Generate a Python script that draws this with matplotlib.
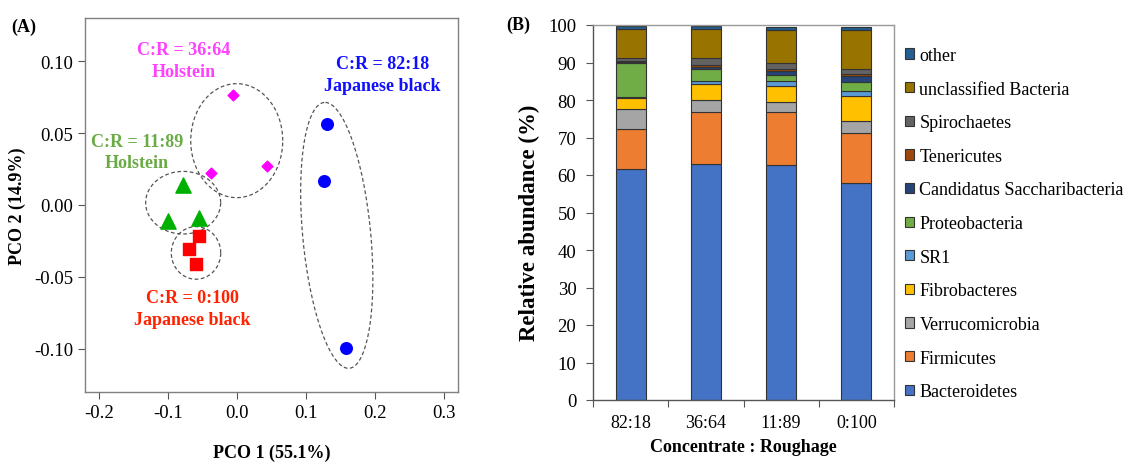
import numpy as np
import matplotlib
matplotlib.use("Agg")
import matplotlib.pyplot as plt
from matplotlib.patches import Patch

plt.rcParams['font.family'] = ['Liberation Serif', 'DejaVu Serif']

# ---------------- Panel A data (PCoA) ----------------
pco1_label = "PCO 1 (55.1%)"
pco2_label = "PCO 2 (14.9%)"
g_8218_x = [0.131, 0.126, 0.158]
g_8218_y = [0.0565, 0.0169, -0.0993]
g_3664_x = [-0.0056, 0.0431, -0.0379]
g_3664_y = [0.0762, 0.0269, 0.0222]
g_1189_x = [-0.0784, -0.0993, -0.0544]
g_1189_y = [0.0140, -0.0110, -0.0090]
g_0100_x = [-0.0549, -0.0693, -0.0588]
g_0100_y = [-0.0215, -0.0308, -0.0410]

# ---------------- Panel B data (stacked bars) ----------------
conditions = ["82:18", "36:64", "11:89", "0:100"]
phyla = ["Bacteroidetes", "Firmicutes", "Verrucomicrobia", "Fibrobacteres", "SR1",
         "Proteobacteria", "Candidatus Saccharibacteria", "Tenericutes",
         "Spirochaetes", "unclassified Bacteria", "other"]
Bacteroidetes = [61.7, 63.0, 62.6, 58.0]
Firmicutes = [10.7, 13.7, 14.1, 13.1]
Verrucomicrobia = [5.2, 3.4, 2.7, 3.4]
Fibrobacteres = [2.9, 4.2, 4.4, 6.5]
SR1 = [0.2, 0.8, 1.3, 1.3]
Proteobacteria = [9.2, 3.3, 1.6, 2.6]
Candidatus_Saccharibacteria = [0.3, 0.5, 1.1, 1.4]
Tenericutes = [0.3, 0.5, 0.5, 0.6]
Spirochaetes = [0.6, 1.7, 1.5, 1.5]
unclassified_Bacteria = [7.8, 7.8, 9.0, 10.3]
other = [0.9, 0.7, 0.6, 0.9]
values = [Bacteroidetes, Firmicutes, Verrucomicrobia, Fibrobacteres, SR1,
          Proteobacteria, Candidatus_Saccharibacteria, Tenericutes,
          Spirochaetes, unclassified_Bacteria, other]
colors = ["#4472C4", "#ED7D31", "#A5A5A5", "#FFC000", "#5B9BD5", "#70AD47",
          "#264478", "#9E480E", "#636363", "#997300", "#255E91"]

W, H = 1128, 464
fig = plt.figure(figsize=(W / 100, H / 100), dpi=100)

# ================= Panel A =================
axA = fig.add_axes([85 / W, 1 - 393 / H, (458 - 85) / W, (393 - 19) / H])
xlim = (-0.2198, 0.3198)
ylim = (-0.1299, 0.1299)
axA.set_xlim(*xlim)
axA.set_ylim(*ylim)
axA.scatter(g_3664_x, g_3664_y, marker='D', s=30, color='#FF00FF', zorder=3)
axA.scatter(g_1189_x, g_1189_y, marker='^', s=120, color='#00B000', zorder=3)
axA.scatter(g_0100_x, g_0100_y, marker='s', s=70, color='#FF0000', zorder=3)
axA.scatter(g_8218_x, g_8218_y, marker='o', s=70, color='#0000FF', zorder=3)

# dashed ellipses defined in pixel units, converted to data units
sx = (458 - 85) / (xlim[1] - xlim[0])
sy = (393 - 19) / (ylim[1] - ylim[0])


def ellipse(cx, cy, a_px, b_px, ang_deg):
    t = np.linspace(0, 2 * np.pi, 300)
    th = np.deg2rad(ang_deg)
    dx = a_px * np.cos(t) * np.cos(th) - b_px * np.sin(t) * np.sin(th)
    dy = a_px * np.cos(t) * np.sin(th) + b_px * np.sin(t) * np.cos(th)
    axA.plot(cx + dx / sx, cy + dy / sy, ls=(0, (3, 2)), color='#555555', lw=0.9, zorder=2)


ellipse(-0.0003, 0.0447, 46, 57, 0)
ellipse(-0.0778, 0.0016, 37.5, 31.3, 0)
ellipse(-0.0592, -0.0333, 24.7, 26.3, 0)
ellipse(0.1444, -0.0211, 133.5, 34, 95.4)

tkw = dict(ha='center', va='center', fontsize=13, fontweight='bold')
axA.text(-0.0777, 0.1078, "C:R = 36:64", color='#FF40FF', **tkw)
axA.text(-0.0777, 0.0930, "Holstein", color='#FF40FF', **tkw)
axA.text(0.2104, 0.0980, "C:R = 82:18", color='#1010FF', **tkw)
axA.text(0.2104, 0.0829, "Japanese black", color='#1010FF', **tkw)
axA.text(-0.145, 0.0440, "C:R = 11:89", color='#6AAB45', **tkw)
axA.text(-0.145, 0.0292, "Holstein", color='#6AAB45', **tkw)
axA.text(-0.064, -0.0640, "C:R = 0:100", color='#FF2200', **tkw)
axA.text(-0.064, -0.0792, "Japanese black", color='#FF2200', **tkw)

axA.set_xticks([-0.2, -0.1, 0.0, 0.1, 0.2, 0.3])
axA.set_xticklabels(["-0.2", "-0.1", "0.0", "0.1", "0.2", "0.3"])
axA.set_yticks([-0.10, -0.05, 0.0, 0.05, 0.10])
axA.set_yticklabels(["-0.10", "-0.05", "0.00", "0.05", "0.10"])
axA.tick_params(labelsize=13.5, length=5, width=0.8, color='#555555')
for s in axA.spines.values():
    s.set_color('#808080')
    s.set_linewidth(1.0)
axA.set_xlabel(pco1_label, fontsize=13, fontweight='bold')
axA.xaxis.set_label_coords(0.5, -0.137)
axA.set_ylabel(pco2_label, fontsize=13, fontweight='bold')
axA.yaxis.set_label_coords(-0.158, 0.5)
fig.text(24 / W, 1 - 27 / H, "(A)", fontsize=13, fontweight='bold', ha='center', va='center')

# ================= Panel B =================
axB = fig.add_axes([593 / W, 1 - 401 / H, (894 - 593) / W, (401 - 26) / H])
x = np.arange(len(conditions))
bottom = np.zeros(len(conditions))
for name, vals, c in zip(phyla, values, colors):
    axB.bar(x, vals, width=0.4, bottom=bottom, color=c, edgecolor='#333333',
            linewidth=0.8, label=name, zorder=2)
    bottom += np.array(vals)
axB.set_xlim(-0.5, len(conditions) - 0.5)
axB.set_ylim(0, 100)
axB.set_yticks(np.arange(0, 101, 10))
axB.set_xticks(x)
axB.set_xticklabels(conditions)
axB.set_xticks(np.arange(-0.5, len(conditions), 1.0), minor=True)
axB.tick_params(axis='x', which='major', length=0, labelsize=13, pad=10)
axB.tick_params(axis='x', which='minor', length=5, width=0.8, color='#555555')
axB.tick_params(axis='y', labelsize=13.5, length=5, width=0.8, color='#555555', pad=7)
for k, s in axB.spines.items():
    s.set_linewidth(1.0)
    s.set_color('#555555' if k in ('left', 'bottom') else '#999999')
axB.set_xlabel("Concentrate : Roughage", fontsize=13, fontweight='bold', labelpad=5)
axB.set_ylabel("Relative abundance (%)", fontsize=16.5, fontweight='bold')
axB.yaxis.set_label_coords(-0.176, 0.475)
fig.text(518 / W, 1 - 25 / H, "(B)", fontsize=13, fontweight='bold', ha='center', va='center')

handles = [Patch(facecolor=c, edgecolor='#333333', linewidth=0.8) for c in colors][::-1]
labels = phyla[::-1]
fig.legend(handles, labels, loc='upper left', bbox_to_anchor=(905 / W, 1 - 48 / H),
           frameon=False, fontsize=13, handlelength=0.5, handleheight=0.5,
           handletextpad=0.3, labelspacing=0.92, borderpad=0, borderaxespad=0)

fig.savefig("out.png", dpi=100)
